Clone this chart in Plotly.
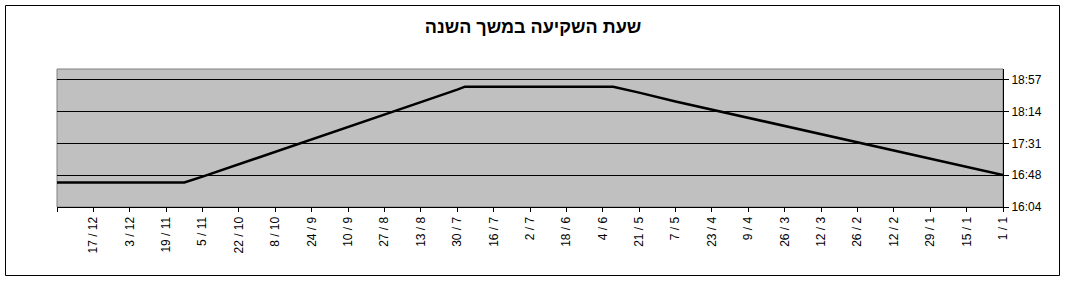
import plotly.graph_objects as go

# Sunset time over the year
dates = ["2009-01-01", "2009-01-15", "2009-01-29", "2009-02-12", "2009-02-26",
         "2009-03-12", "2009-03-26", "2009-04-09", "2009-04-23", "2009-05-07",
         "2009-05-21", "2009-05-31", "2009-07-27", "2009-07-30", "2009-08-13",
         "2009-08-27", "2009-09-10", "2009-09-24", "2009-10-08", "2009-10-22",
         "2009-11-05", "2009-11-12", "2009-12-31"]
sunset = ["16:48", "16:59", "17:10", "17:22", "17:33",
          "17:43", "17:54", "18:05", "18:16", "18:28",
          "18:40", "18:48", "18:48", "18:44", "18:27",
          "18:10", "17:53", "17:37", "17:20", "17:03",
          "16:46", "16:38", "16:38"]

tick_dates = ["2009-01-01", "2009-01-15", "2009-01-29", "2009-02-12", "2009-02-26",
              "2009-03-12", "2009-03-26", "2009-04-09", "2009-04-23", "2009-05-07",
              "2009-05-21", "2009-06-04", "2009-06-18", "2009-07-02", "2009-07-16",
              "2009-07-30", "2009-08-13", "2009-08-27", "2009-09-10", "2009-09-24",
              "2009-10-08", "2009-10-22", "2009-11-05", "2009-11-19", "2009-12-03",
              "2009-12-17", "2009-12-31"]
tick_labels = ["1 / 1", "15 / 1", "29 / 1", "12 / 2", "26 / 2",
               "12 / 3", "26 / 3", "9 / 4", "23 / 4", "7 / 5",
               "21 / 5", "4 / 6", "18 / 6", "2 / 7", "16 / 7",
               "30 / 7", "13 / 8", "27 / 8", "10 / 9", "24 / 9",
               "8 / 10", "22 / 10", "5 / 11", "19 / 11", "3 / 12",
               "17 / 12", ""]

y_ticks_min = [964.8, 1008.0, 1051.2, 1094.4, 1137.6]
y_labels = ["16:04", "16:48", "17:31", "18:14", "18:57"]
y_range = [964.8, 1152.0]

title = "שעת השקיעה במשך השנה"


def to_min(s):
    h, m = s.split(":")
    return int(h) * 60 + int(m)


yvals = [to_min(s) for s in sunset]

fig = go.Figure()
fig.add_trace(go.Scatter(x=dates, y=yvals, mode="lines",
                         line=dict(color="black", width=2.5),
                         hoverinfo="skip", showlegend=False))

fig.update_layout(
    width=1066, height=282,
    margin=dict(l=57, r=63, t=69, b=75),
    paper_bgcolor="white",
    plot_bgcolor="#C0C0C0",
    font=dict(family="Liberation Sans, Arial, sans-serif", color="black", size=12),
    title=dict(text="<b>" + title + "</b>", x=0.5, xref="container", xanchor="center",
               y=1 - 27 / 282, yref="container", yanchor="middle",
               font=dict(size=18, color="black")),
    showlegend=False,
)

fig.update_xaxes(
    type="date",
    range=["2009-12-31", "2009-01-01"],
    tickmode="array", tickvals=tick_dates, ticktext=tick_labels,
    tickangle=-90,
    ticks="outside", ticklen=4, tickcolor="black", tickwidth=1,
    showline=True, linecolor="black", linewidth=1,
    showgrid=False, zeroline=False,
    tickfont=dict(size=12),
)

fig.update_yaxes(
    side="right",
    range=y_range,
    tickmode="array", tickvals=y_ticks_min, ticktext=y_labels,
    ticks="outside", ticklen=5, tickcolor="black", tickwidth=1,
    showline=True, linecolor="black", linewidth=1,
    showgrid=True, gridcolor="black", gridwidth=1,
    zeroline=False,
    tickfont=dict(size=12),
)

# plot area border (gray) and outer chart border (black)
fig.add_shape(type="rect", xref="paper", yref="paper", x0=0, x1=1, y0=0, y1=1,
              line=dict(color="#808080", width=1), fillcolor="#C0C0C0", layer="below")
fig.add_shape(type="rect", xref="paper", yref="paper",
              x0=(5.5 - 57) / 946, x1=(1059.5 - 57) / 946,
              y0=(207 - 275.5) / 138, y1=(207 - 5.5) / 138,
              line=dict(color="black", width=1), fillcolor="rgba(0,0,0,0)", layer="above")

fig.write_html("out.html")
